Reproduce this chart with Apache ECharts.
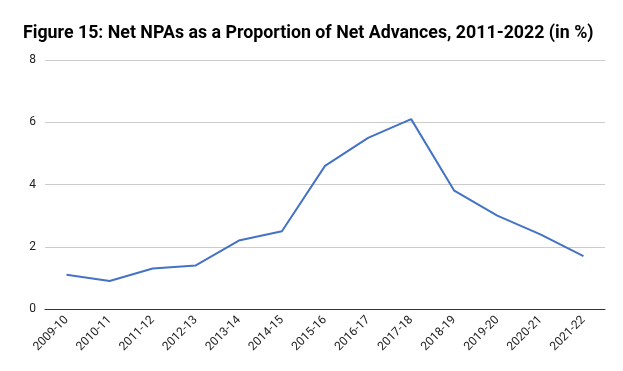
<!DOCTYPE html>
<html><head><meta charset="utf-8">
<script src="https://cdn.jsdelivr.net/npm/echarts@6/dist/echarts.min.js"></script>
<style>html,body{margin:0;padding:0;background:#fff}#c{width:623px;height:371px}</style>
</head><body><div id="c"></div>
<script>
const categories = ["2009-10","2010-11","2011-12","2012-13","2013-14","2014-15","2015-16","2016-17","2017-18","2018-19","2019-20","2020-21","2021-22"];
const netNPA = [1.1, 0.9, 1.3, 1.4, 2.2, 2.5, 4.6, 5.5, 6.1, 3.8, 3.0, 2.4, 1.7];
const chart = echarts.init(document.getElementById('c'));
chart.setOption({
  animation: false,
  title: {
    text: 'Figure 15: Net NPAs as a Proportion of Net Advances, 2011-2022 (in %)',
    left: 18, top: 20,
    textStyle: {fontFamily: 'Roboto', fontWeight: 'bold', fontSize: 17.8, color: '#000'}
  },
  grid: {left: 45, right: 18, top: 60, bottom: 62},
  xAxis: {
    type: 'category', data: categories, boundaryGap: true,
    axisLine: {lineStyle: {color: '#333', width: 1}},
    axisTick: {show: false},
    axisLabel: {rotate: 45, interval: 0, fontFamily: 'Roboto', fontSize: 12, color: '#222', margin: 9}
  },
  yAxis: {
    type: 'value', min: 0, max: 8, interval: 2,
    axisLine: {show: false}, axisTick: {show: false},
    splitLine: {lineStyle: {color: '#ccc'}},
    axisLabel: {fontFamily: 'Roboto', fontSize: 12, color: '#222', margin: 9}
  },
  series: [{
    type: 'line', data: netNPA, symbol: 'none',
    lineStyle: {color: '#4472c4', width: 2}
  }]
});
</script></body></html>
